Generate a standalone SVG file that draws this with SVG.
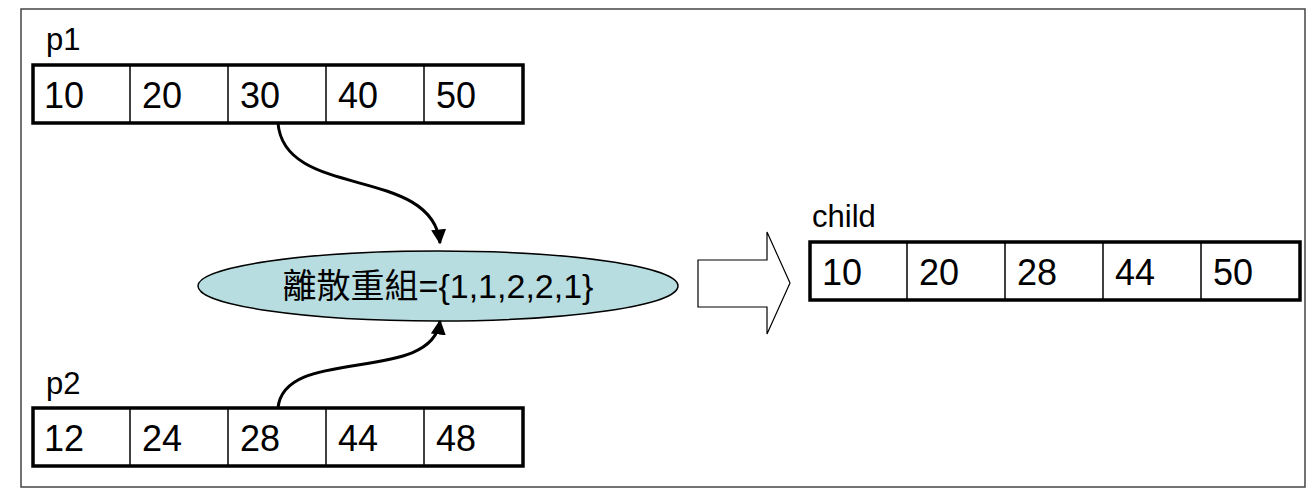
<svg xmlns="http://www.w3.org/2000/svg" width="1315" height="489" viewBox="0 0 1315 489">
<defs>
<style>
.frame{fill:#fff;stroke:#444;stroke-width:1.5}
.box{fill:#fff;stroke:#000;stroke-width:3.5}
.div{stroke:#000;stroke-width:1.5}
.num{font-family:"Liberation Sans",Arial,sans-serif;font-size:36px;fill:#000}
.lbl{font-family:"Liberation Sans",Arial,sans-serif;font-size:31px;fill:#000}
.conn{fill:none;stroke:#000;stroke-width:3}
</style>
<marker id="ah" viewBox="0 0 10 10" refX="9" refY="5" markerWidth="5" markerHeight="5" orient="auto" markerUnits="strokeWidth">
<path d="M0,0 L10,5 L0,10 Z" fill="#000"/>
</marker>
</defs>
<rect class="frame" x="21" y="9" width="1284" height="478"/>
<g id="p1">
<text class="lbl" x="46" y="50">p1</text>
<rect class="box" x="33" y="65" width="490" height="58"/>
<line class="div" x1="130" y1="65" x2="130" y2="123"/>
<line class="div" x1="228" y1="65" x2="228" y2="123"/>
<line class="div" x1="326" y1="65" x2="326" y2="123"/>
<line class="div" x1="424" y1="65" x2="424" y2="123"/>
<text class="num" x="44" y="108">10</text>
<text class="num" x="142" y="108">20</text>
<text class="num" x="240" y="108">30</text>
<text class="num" x="338" y="108">40</text>
<text class="num" x="436" y="108">50</text>
</g>
<g id="p2">
<text class="lbl" x="46" y="394">p2</text>
<rect class="box" x="33" y="408" width="490" height="58"/>
<line class="div" x1="130" y1="408" x2="130" y2="466"/>
<line class="div" x1="228" y1="408" x2="228" y2="466"/>
<line class="div" x1="326" y1="408" x2="326" y2="466"/>
<line class="div" x1="424" y1="408" x2="424" y2="466"/>
<text class="num" x="44" y="451">12</text>
<text class="num" x="142" y="451">24</text>
<text class="num" x="240" y="451">28</text>
<text class="num" x="338" y="451">44</text>
<text class="num" x="436" y="451">48</text>
</g>
<g id="recombine">
<ellipse cx="438" cy="286" rx="240" ry="35" fill="#b7dde1" stroke="#000" stroke-width="1.5"/>
<text x="438" y="298" text-anchor="middle" font-family="'Liberation Sans','Noto Sans CJK TC',sans-serif" font-size="34" fill="#000">離散重組={1,1,2,2,1}</text>
</g>
<g id="bigarrow">
<path d="M698,260 L767,260 L767,232 L790,283 L767,334 L767,307 L698,307 Z" fill="#fff" stroke="#000" stroke-width="1.2"/>
</g>
<g id="child">
<text class="lbl" x="812" y="227">child</text>
<rect class="box" x="810" y="242" width="490" height="58"/>
<line class="div" x1="907" y1="242" x2="907" y2="300"/>
<line class="div" x1="1005" y1="242" x2="1005" y2="300"/>
<line class="div" x1="1103" y1="242" x2="1103" y2="300"/>
<line class="div" x1="1201" y1="242" x2="1201" y2="300"/>
<text class="num" x="822" y="285">10</text>
<text class="num" x="919" y="285">20</text>
<text class="num" x="1017" y="285">28</text>
<text class="num" x="1115" y="285">44</text>
<text class="num" x="1213" y="285">50</text>
</g>
<g id="connectors">
<path class="conn" d="M278,123 C284,200 432,165 440,243" marker-end="url(#ah)"/>
<path class="conn" d="M278,408 C284,345 432,385 440,321" marker-end="url(#ah)"/>
</g>
</svg>
